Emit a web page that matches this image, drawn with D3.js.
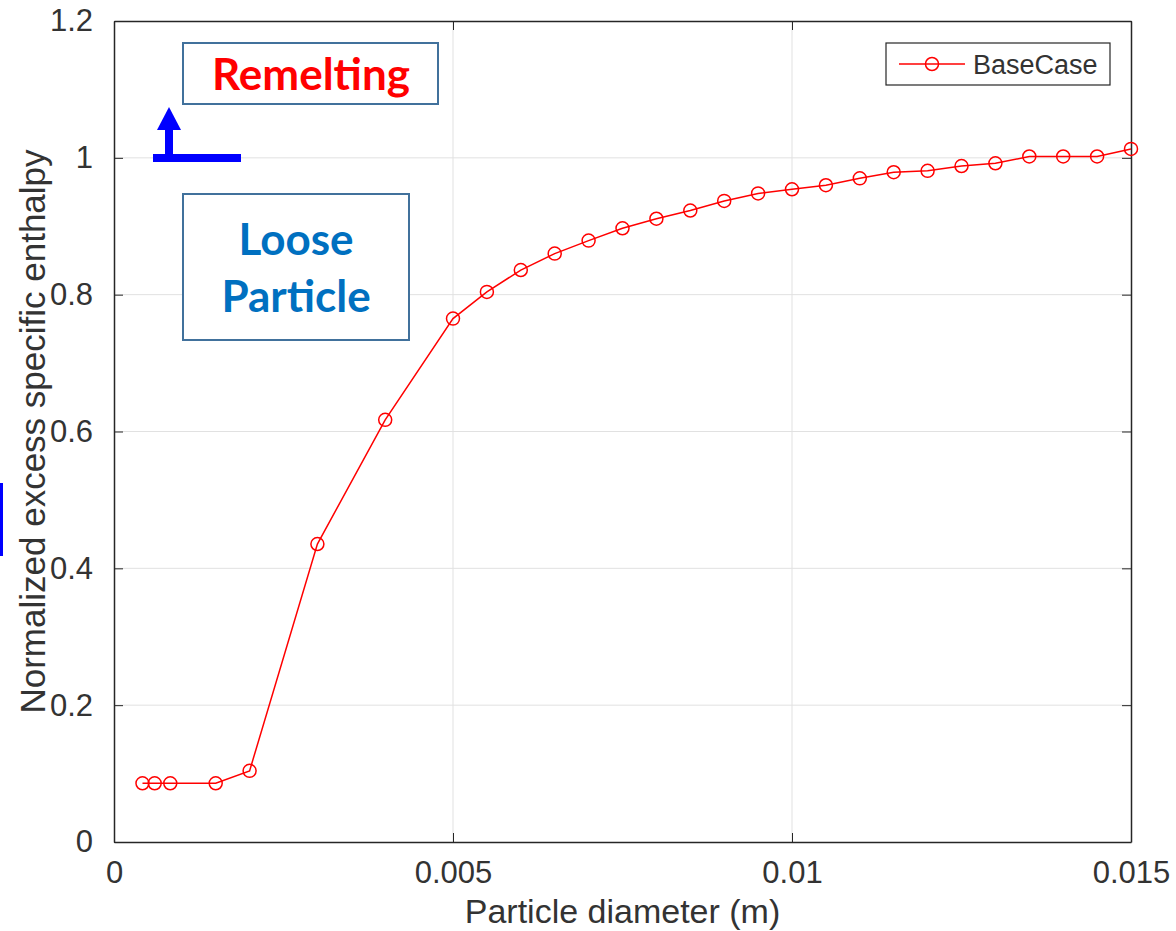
<!DOCTYPE html>
<html>
<head>
<meta charset="utf-8">
<script src="https://cdn.jsdelivr.net/npm/d3@7"></script>
<style>
  html, body { margin: 0; padding: 0; background: #fff; }
  svg { display: block; }
</style>
</head>
<body>
<script>
// ---- data ----
const diameters = [0.00042, 0.0006, 0.00083, 0.0015, 0.002, 0.003, 0.004, 0.005, 0.0055, 0.006,
  0.0065, 0.007, 0.0075, 0.008, 0.0085, 0.009, 0.0095, 0.01, 0.0105, 0.011,
  0.0115, 0.012, 0.0125, 0.013, 0.0135, 0.014, 0.0145, 0.015];
const enthalpy = [0.0858, 0.0858, 0.0858, 0.0858, 0.104, 0.4355, 0.617, 0.765, 0.804, 0.836,
  0.860, 0.879, 0.897, 0.911, 0.923, 0.937, 0.948, 0.954, 0.960, 0.970,
  0.979, 0.981, 0.988, 0.992, 1.002, 1.002, 1.002, 1.013];
const seriesName = "BaseCase";
const xTicks = [0, 0.005, 0.01, 0.015];
const xTickLabels = ["0", "0.005", "0.01", "0.015"];
const yTicks = [0, 0.2, 0.4, 0.6, 0.8, 1.0, 1.2];
const yTickLabels = ["0", "0.2", "0.4", "0.6", "0.8", "1", "1.2"];
const xLabel = "Particle diameter (m)";
const yLabel = "Normalized excess specific enthalpy";
const noteTop = "Remelting";
const noteBottom = ["Loose", "Particle"];

// ---- layout ----
const W = 1176, H = 931;
const L = 114, R = 1131, T = 21, B = 842;
const axisColor = "#262626";
const textColor = "#333333";
const font = "'Liberation Sans', Arial, sans-serif";

const svg = d3.select("body").append("svg").attr("width", W).attr("height", H);

const x = d3.scaleLinear().domain([0, 0.015]).range([L, R]);
const y = d3.scaleLinear().domain([0, 1.2]).range([B, T]);

// grid
const grid = svg.append("g");
grid.selectAll("line.gx").data(xTicks.slice(1, -1)).join("line")
  .attr("x1", d => x(d)).attr("x2", d => x(d)).attr("y1", T).attr("y2", B)
  .attr("stroke", "#e1e1e1").attr("stroke-width", 1);
grid.selectAll("line.gy").data(yTicks.slice(1, -1)).join("line")
  .attr("x1", L).attr("x2", R).attr("y1", d => y(d)).attr("y2", d => y(d))
  .attr("stroke", "#e1e1e1").attr("stroke-width", 1);

// axes
const xAxis = d3.axisBottom(x).tickValues(xTicks).tickFormat((d, i) => xTickLabels[i]).tickSizeInner(-9).tickSizeOuter(0).tickPadding(19);
const yAxis = d3.axisLeft(y).tickValues(yTicks).tickFormat((d, i) => yTickLabels[i]).tickSizeInner(-9).tickSizeOuter(0).tickPadding(21);
const xTop = d3.axisTop(x).tickValues(xTicks).tickFormat("").tickSizeInner(-9).tickSizeOuter(0);
const yRight = d3.axisRight(y).tickValues(yTicks).tickFormat("").tickSizeInner(-9).tickSizeOuter(0);

function styleAxis(g) {
  g.select(".domain").attr("stroke", axisColor).attr("stroke-width", 1.5);
  g.selectAll(".tick line").attr("stroke", axisColor).attr("stroke-width", 1);
  g.selectAll(".tick text").attr("fill", textColor).style("font-family", font).style("font-size", "31px");
}
svg.append("g").attr("transform", `translate(0,${B})`).call(xAxis).call(styleAxis);
svg.append("g").attr("transform", `translate(${L},0)`).call(yAxis).call(styleAxis);
svg.append("g").attr("transform", `translate(0,${T})`).call(xTop).call(styleAxis);
svg.append("g").attr("transform", `translate(${R},0)`).call(yRight).call(styleAxis);

// axis labels
svg.append("text").attr("x", (L + R) / 2).attr("y", 923).attr("text-anchor", "middle")
  .attr("fill", textColor).style("font-family", font).style("font-size", "34px").text(xLabel);
svg.append("text").attr("transform", `translate(45,${(T + B) / 2}) rotate(-90)`).attr("text-anchor", "middle")
  .attr("fill", textColor).style("font-family", font).style("font-size", "35px").text(yLabel);

// series
const pts = diameters.map((d, i) => [d, enthalpy[i]]);
svg.append("path").datum(pts)
  .attr("d", d3.line().x(d => x(d[0])).y(d => y(d[1])))
  .attr("fill", "none").attr("stroke", "#ff0000").attr("stroke-width", 1.5);
svg.append("g").selectAll("circle").data(pts).join("circle")
  .attr("cx", d => x(d[0])).attr("cy", d => y(d[1])).attr("r", 6.5)
  .attr("fill", "none").attr("stroke", "#ff0000").attr("stroke-width", 1.5);

// legend
const lg = svg.append("g");
lg.append("rect").attr("x", 886).attr("y", 43).attr("width", 224).attr("height", 42)
  .attr("fill", "#fff").attr("stroke", axisColor).attr("stroke-width", 1.2);
lg.append("line").attr("x1", 899).attr("x2", 965).attr("y1", 64).attr("y2", 64)
  .attr("stroke", "#ff0000").attr("stroke-width", 1.5);
lg.append("circle").attr("cx", 932).attr("cy", 64).attr("r", 6.5)
  .attr("fill", "none").attr("stroke", "#ff0000").attr("stroke-width", 1.5);
lg.append("text").attr("x", 973).attr("y", 74).attr("fill", textColor)
  .style("font-family", font).style("font-size", "27px").text(seriesName);

// annotations
const noteFont = "Lato, 'Open Sans', sans-serif";
const boxStroke = "#41719c";
svg.append("rect").attr("x", 183).attr("y", 43).attr("width", 255).attr("height", 61)
  .attr("fill", "#fff").attr("stroke", boxStroke).attr("stroke-width", 2);
svg.append("text").attr("x", 311).attr("y", 90).attr("text-anchor", "middle")
  .attr("fill", "#ff0000").style("font-family", noteFont).style("font-weight", "bold")
  .style("font-size", "44px").text(noteTop);

svg.append("rect").attr("x", 183).attr("y", 194).attr("width", 226).attr("height", 146)
  .attr("fill", "#fff").attr("stroke", boxStroke).attr("stroke-width", 2);
svg.append("text").attr("x", 296).attr("y", 255).attr("text-anchor", "middle")
  .attr("fill", "#0070c0").style("font-family", noteFont).style("font-weight", "bold")
  .style("font-size", "44px").text(noteBottom[0]);
svg.append("text").attr("x", 296).attr("y", 312).attr("text-anchor", "middle")
  .attr("fill", "#0070c0").style("font-family", noteFont).style("font-weight", "bold")
  .style("font-size", "44px").text(noteBottom[1]);

// blue arrow marking the threshold
const blue = "#0000ff";
svg.append("rect").attr("x", 153).attr("y", 154).attr("width", 88).attr("height", 8).attr("fill", blue);
svg.append("rect").attr("x", 165).attr("y", 128).attr("width", 8).attr("height", 30).attr("fill", blue);
svg.append("path").attr("d", "M157,130 L169,107 L181,130 Z").attr("fill", blue);

// blue bar at the left edge
svg.append("rect").attr("x", 0).attr("y", 483).attr("width", 3).attr("height", 73).attr("fill", blue);
</script>
</body>
</html>
